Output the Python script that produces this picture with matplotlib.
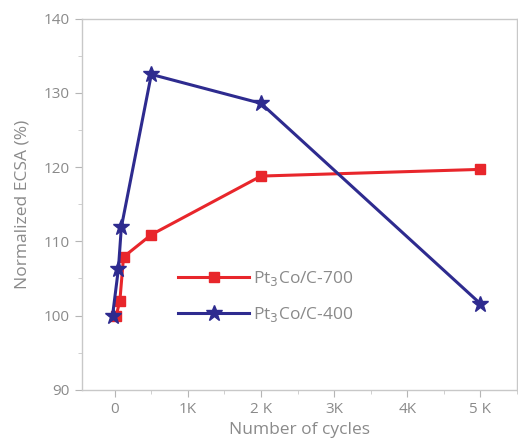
import matplotlib.pyplot as plt
from matplotlib.ticker import MultipleLocator

cycles_700 = [20, 70, 120, 500, 2000, 5000]
ecsa_700 = [100.0, 102.0, 107.9, 110.9, 118.8, 119.7]
cycles_400 = [-30, 50, 90, 500, 2000, 5000]
ecsa_400 = [100.0, 106.3, 111.9, 132.5, 128.6, 101.6]
xtick_pos = [0, 1000, 2000, 3000, 4000, 5000]
xtick_labels = ["0", "1K", "2 K", "3K", "4K", "5 K"]

plt.rcParams['font.family'] = ['Open Sans', 'DejaVu Sans']
grey = '#8a8a8a'

fig = plt.figure(figsize=(5.18, 4.46), dpi=100)
ax = fig.add_axes([0.158, 0.126, 0.84, 0.832])

ax.plot(cycles_700, ecsa_700, color='#e8262b', lw=2.2, marker='s', ms=7.5,
        label='Pt$_3$Co/C-700')
ax.plot(cycles_400, ecsa_400, color='#2e2b8f', lw=2.2, marker='*', ms=12,
        label='Pt$_3$Co/C-400')

ax.set_xlim(-450, 5500)
ax.set_ylim(90, 140)
ax.set_xticks(xtick_pos)
ax.set_xticklabels(xtick_labels)
ax.xaxis.set_minor_locator(MultipleLocator(500))
ax.yaxis.set_major_locator(MultipleLocator(10))
ax.yaxis.set_minor_locator(MultipleLocator(5))

for s in ax.spines.values():
    s.set_color('#c8c8c8')
    s.set_linewidth(1.0)
ax.tick_params(which='major', colors='#b5b5b5', labelcolor=grey, labelsize=11, length=5)
ax.tick_params(which='minor', colors='#c8c8c8', length=3)

ax.set_xlabel('Number of cycles', color=grey, fontsize=12.5, labelpad=4)
ax.set_ylabel('Normalized ECSA (%)', color=grey, fontsize=12.5, labelpad=10)

leg = ax.legend(loc='center left', bbox_to_anchor=(0.185, 0.252), frameon=False,
                fontsize=12.5, handlelength=4.1, labelspacing=1.0, handletextpad=0.2)
for t in leg.get_texts():
    t.set_color(grey)

fig.savefig('out.png', dpi=100)
